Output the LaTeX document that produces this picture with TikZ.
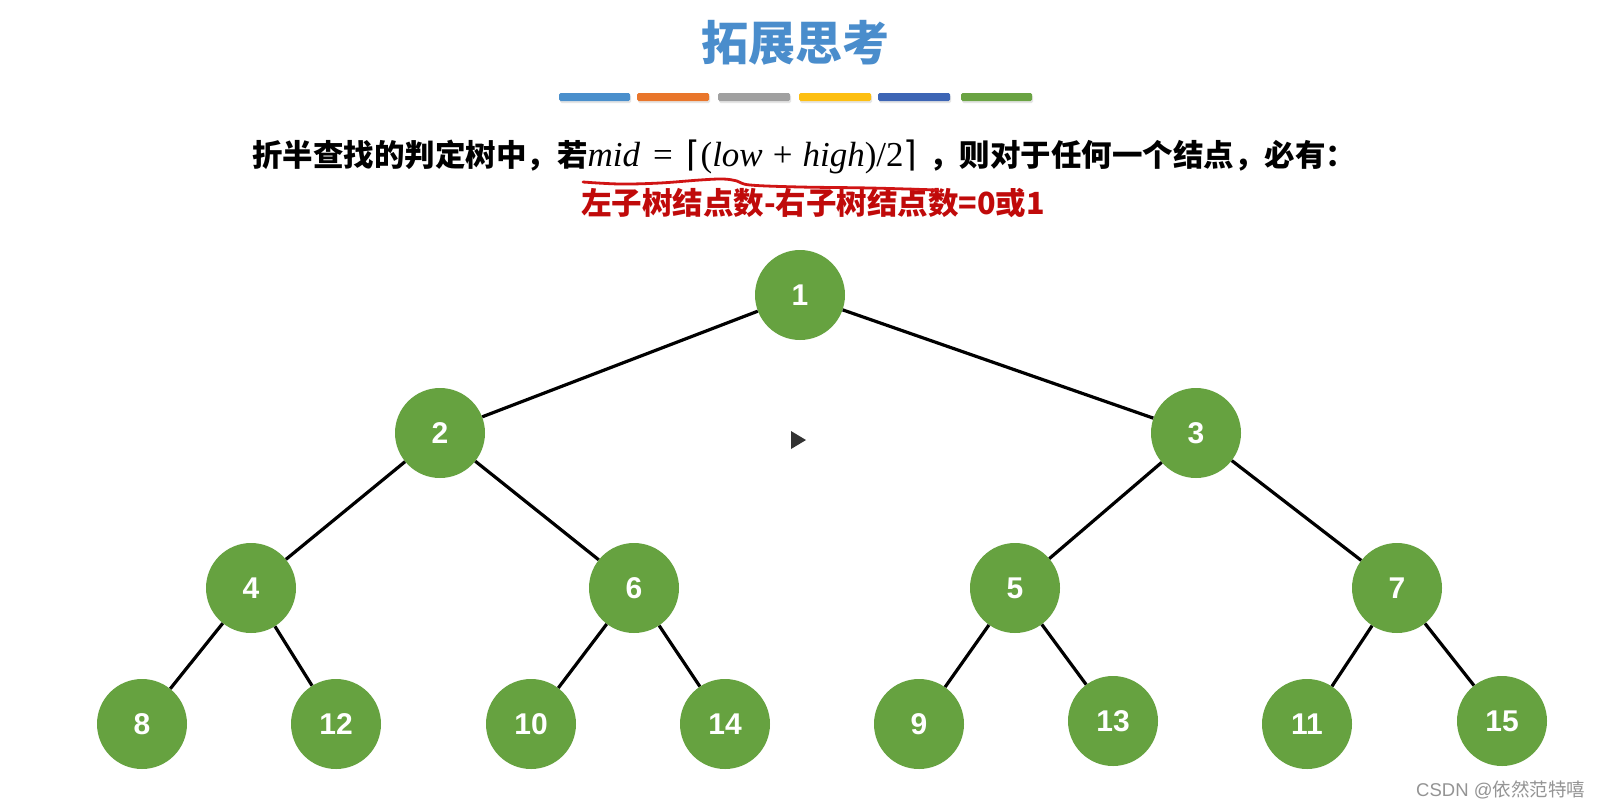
\documentclass[tikz,border=0pt]{standalone}
\usepackage{fontspec}
\setmainfont{Liberation Sans}
\newfontfamily\cjk{Noto Sans CJK SC}
\newfontfamily\tms{Liberation Serif}
\newfontfamily\djv{DejaVu Sans}
\definecolor{nodegreen}{RGB}{102,162,64}
\definecolor{titleblue}{RGB}{74,141,204}
\definecolor{textred}{RGB}{192,10,10}
\definecolor{penred}{RGB}{208,20,20}
\definecolor{barA}{RGB}{74,143,204}
\definecolor{barB}{RGB}{233,118,43}
\definecolor{barC}{RGB}{160,160,160}
\definecolor{barD}{RGB}{253,191,18}
\definecolor{barE}{RGB}{61,101,181}
\definecolor{barF}{RGB}{106,163,67}
\begin{document}
\begin{tikzpicture}[x=1pt,y=-1pt,
  tnode/.style={circle,fill=nodegreen,minimum size=90pt,inner sep=0pt,text=white,
    font=\fontsize{30}{30}\selectfont\bfseries},
  link/.style={line width=3.2pt,black},
  colbar/.style={rounded corners=1.5pt},
  barshadow/.style={fill=black!10,rounded corners=1.5pt},
  redpen/.style={line width=2.8pt,penred,line cap=round,line join=round}]
\useasboundingbox (0,0) rectangle (1603,809);
\fill[white] (0,0) rectangle (1603,809);

% title
\node[anchor=base,inner sep=0pt,text=titleblue,
  font=\cjk\bfseries\fontsize{47}{47}\selectfont] (title) at (795,60) {拓展思考};

% colour bars
\foreach \xa/\xb/\c in {559/630/barA,637/709/barB,718/790/barC,799/871/barD,878/950/barE,961/1032/barF}{
  \fill[barshadow] (\xa+1,95) rectangle (\xb+1,103);
  \fill[colbar,fill=\c] (\xa,93) rectangle (\xb,101);
}

% condition line
\node[anchor=base west,inner sep=0pt,font=\fontsize{30.5}{30.5}\selectfont] (cond) at (252,166)
  {{\cjk\bfseries 折半查找的判定树中，若}{\tms\fontsize{35}{35}\selectfont\itshape mid\upshape\hspace{13pt}=\hspace{14pt}{\djv ⌈}(\itshape low\upshape\hspace{10pt}+\hspace{10pt}\itshape high\upshape)/2{\djv ⌉}}\hspace{12pt}{\cjk\bfseries ，则对于任何一个结点，必有：}};

% red note
\node[anchor=base,inner sep=0pt,text=textred,
  font=\cjk\bfseries\fontsize{30.5}{30.5}\selectfont] (note) at (813,214)
  {左子树结点数-右子树结点数=0或1};

% hand-drawn red underline
\draw[redpen] plot[smooth,tension=0.6] coordinates {(583,182) (620,184) (660,183) (700,180) (723,179) (737,181) (750,185) (800,187) (870,188) (938,190)};

% tree nodes
\node[tnode] (n1) at (800,295) {1};
\node[tnode] (n2) at (440,433) {2};
\node[tnode] (n3) at (1196,433) {3};
\node[tnode] (n4) at (251,588) {4};
\node[tnode] (n6) at (634,588) {6};
\node[tnode] (n5) at (1015,588) {5};
\node[tnode] (n7) at (1397,588) {7};
\node[tnode] (n8) at (142,724) {8};
\node[tnode] (n12) at (336,724) {12};
\node[tnode] (n10) at (531,724) {10};
\node[tnode] (n14) at (725,724) {14};
\node[tnode] (n9) at (919,724) {9};
\node[tnode] (n13) at (1113,721) {13};
\node[tnode] (n11) at (1307,724) {11};
\node[tnode] (n15) at (1502,721) {15};

% edges
\draw[link] (n1) -- (n2);
\draw[link] (n1) -- (n3);
\draw[link] (n2) -- (n4);
\draw[link] (n2) -- (n6);
\draw[link] (n3) -- (n5);
\draw[link] (n3) -- (n7);
\draw[link] (n4) -- (n8);
\draw[link] (n4) -- (n12);
\draw[link] (n6) -- (n10);
\draw[link] (n6) -- (n14);
\draw[link] (n5) -- (n9);
\draw[link] (n5) -- (n13);
\draw[link] (n7) -- (n11);
\draw[link] (n7) -- (n15);

% play marker
\fill[black!80] (791,431) -- (791,449) -- (806,440) -- cycle;

% watermark
\node[anchor=base west,inner sep=0pt,text=black!42,font=\fontsize{18.5}{18.5}\selectfont] (wm) at (1416,796)
  {CSDN @{\cjk 依然范特嘻}};
\end{tikzpicture}
\end{document}
